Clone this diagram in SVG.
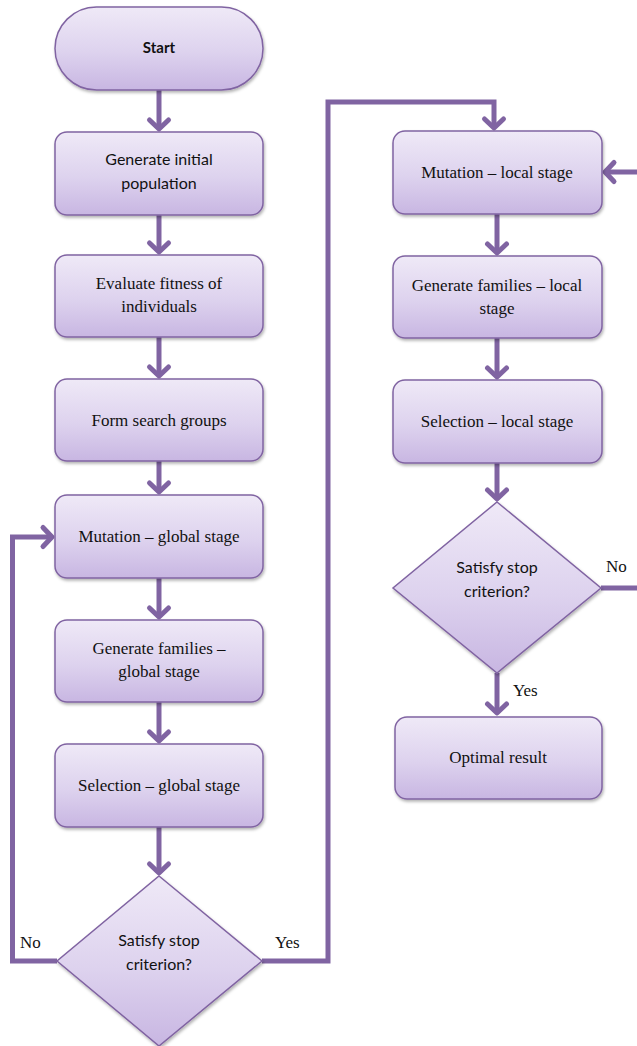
<svg xmlns="http://www.w3.org/2000/svg" width="637" height="1046" viewBox="0 0 637 1046">
  <style>
    .node { fill: url(#nodeFill); stroke: #8064A2; stroke-width: 1.5; filter: url(#shadow); }
    .serif { font-family: "Liberation Serif", "Times New Roman", serif; font-size: 17px; fill: #111; text-anchor: middle; }
    .sans { font-family: "Lato", "Open Sans", "Liberation Sans", sans-serif; font-size: 16px; fill: #111; text-anchor: middle; }
    .bold { font-weight: bold; font-size: 15px; }
    .edge { fill: none; stroke: #8064A2; stroke-width: 5; stroke-linejoin: miter; marker-end: url(#chev); }
    .label { font-family: "Liberation Serif", "Times New Roman", serif; font-size: 17px; fill: #111; }
  </style>
  <defs>
    <linearGradient id="nodeFill" x1="0" y1="0" x2="0" y2="1">
      <stop offset="0" stop-color="#EFE9F7"/>
      <stop offset="0.55" stop-color="#DDD2EE"/>
      <stop offset="1" stop-color="#C8B6E2"/>
    </linearGradient>
    <filter id="shadow" x="-10%" y="-10%" width="130%" height="130%">
      <feDropShadow dx="1" dy="2" stdDeviation="1.5" flood-color="#000" flood-opacity="0.3"/>
    </filter>
    <marker id="chev" markerUnits="userSpaceOnUse" markerWidth="30" markerHeight="30" viewBox="-15 -15 30 30" refX="0" refY="0" orient="auto" overflow="visible">
      <path d="M-9,-9.5 L0,0 L-9,9.5" fill="none" stroke="#8064A2" stroke-width="5" stroke-linecap="round" stroke-linejoin="round"/>
    </marker>
  </defs>

  <!-- connectors -->
  <g id="connectors">
    <path class="edge" d="M159,90 V129"/>
    <path class="edge" d="M159,215 V252"/>
    <path class="edge" d="M159,337 V376"/>
    <path class="edge" d="M159,461 V492"/>
    <path class="edge" d="M159,578 V617"/>
    <path class="edge" d="M159,702 V741"/>
    <path class="edge" d="M159,827 V873"/>
    <!-- No: back to global mutation -->
    <path class="edge" d="M57,961 H12.5 V537 H52"/>
    <!-- Yes: to local stage -->
    <path class="edge" d="M262,961 H328 V102 H494 V128"/>
    <path class="edge" d="M497,214 V253"/>
    <path class="edge" d="M497,338 V377"/>
    <path class="edge" d="M497,463 V499"/>
    <!-- No: back to local mutation -->
    <path class="edge" d="M601,588 H640 V172 H605"/>
    <!-- Yes: optimal result -->
    <path class="edge" d="M497,673 V713"/>
  </g>

  <!-- left column -->
  <g id="start">
    <rect class="node" x="55" y="7" width="208" height="83" rx="41.5"/>
    <text class="sans bold" x="159" y="53">Start</text>
  </g>
  <g id="init-pop">
    <rect class="node" x="55" y="132" width="208" height="83" rx="12"/>
    <text class="sans" x="159" y="165">Generate initial</text>
    <text class="sans" x="159" y="189">population</text>
  </g>
  <g id="eval-fitness">
    <rect class="node" x="55" y="255" width="208" height="82" rx="12"/>
    <text class="serif" x="159" y="289">Evaluate fitness of</text>
    <text class="serif" x="159" y="312">individuals</text>
  </g>
  <g id="search-groups">
    <rect class="node" x="55" y="379" width="208" height="82" rx="12"/>
    <text class="serif" x="159" y="426">Form search groups</text>
  </g>
  <g id="mutation-global">
    <rect class="node" x="55" y="495" width="208" height="83" rx="12"/>
    <text class="serif" x="159" y="542">Mutation – global stage</text>
  </g>
  <g id="families-global">
    <rect class="node" x="55" y="620" width="208" height="82" rx="12"/>
    <text class="serif" x="159" y="654">Generate families –</text>
    <text class="serif" x="159" y="677">global stage</text>
  </g>
  <g id="selection-global">
    <rect class="node" x="55" y="744" width="208" height="83" rx="12"/>
    <text class="serif" x="159" y="791">Selection – global stage</text>
  </g>
  <g id="stop-global">
    <polygon class="node" points="159,876 262,961 159,1046 57,961"/>
    <text class="sans" x="159" y="946">Satisfy stop</text>
    <text class="sans" x="159" y="970">criterion?</text>
  </g>

  <!-- right column -->
  <g id="mutation-local">
    <rect class="node" x="393" y="131" width="209" height="83" rx="12"/>
    <text class="serif" x="497" y="178">Mutation – local stage</text>
  </g>
  <g id="families-local">
    <rect class="node" x="393" y="256" width="209" height="82" rx="12"/>
    <text class="serif" x="497" y="291">Generate families – local</text>
    <text class="serif" x="497" y="314">stage</text>
  </g>
  <g id="selection-local">
    <rect class="node" x="393" y="380" width="209" height="83" rx="12"/>
    <text class="serif" x="497" y="427">Selection – local stage</text>
  </g>
  <g id="stop-local">
    <polygon class="node" points="497,502 601,588 497,673 393,588"/>
    <text class="sans" x="497" y="573">Satisfy stop</text>
    <text class="sans" x="497" y="597">criterion?</text>
  </g>
  <g id="optimal">
    <rect class="node" x="395" y="717" width="207" height="82" rx="12"/>
    <text class="serif" x="498" y="763">Optimal result</text>
  </g>

  <!-- branch labels -->
  <g id="labels">
    <text class="label" x="20" y="948">No</text>
    <text class="label" x="275" y="948">Yes</text>
    <text class="label" x="606" y="572">No</text>
    <text class="label" x="513" y="696">Yes</text>
  </g>
</svg>
